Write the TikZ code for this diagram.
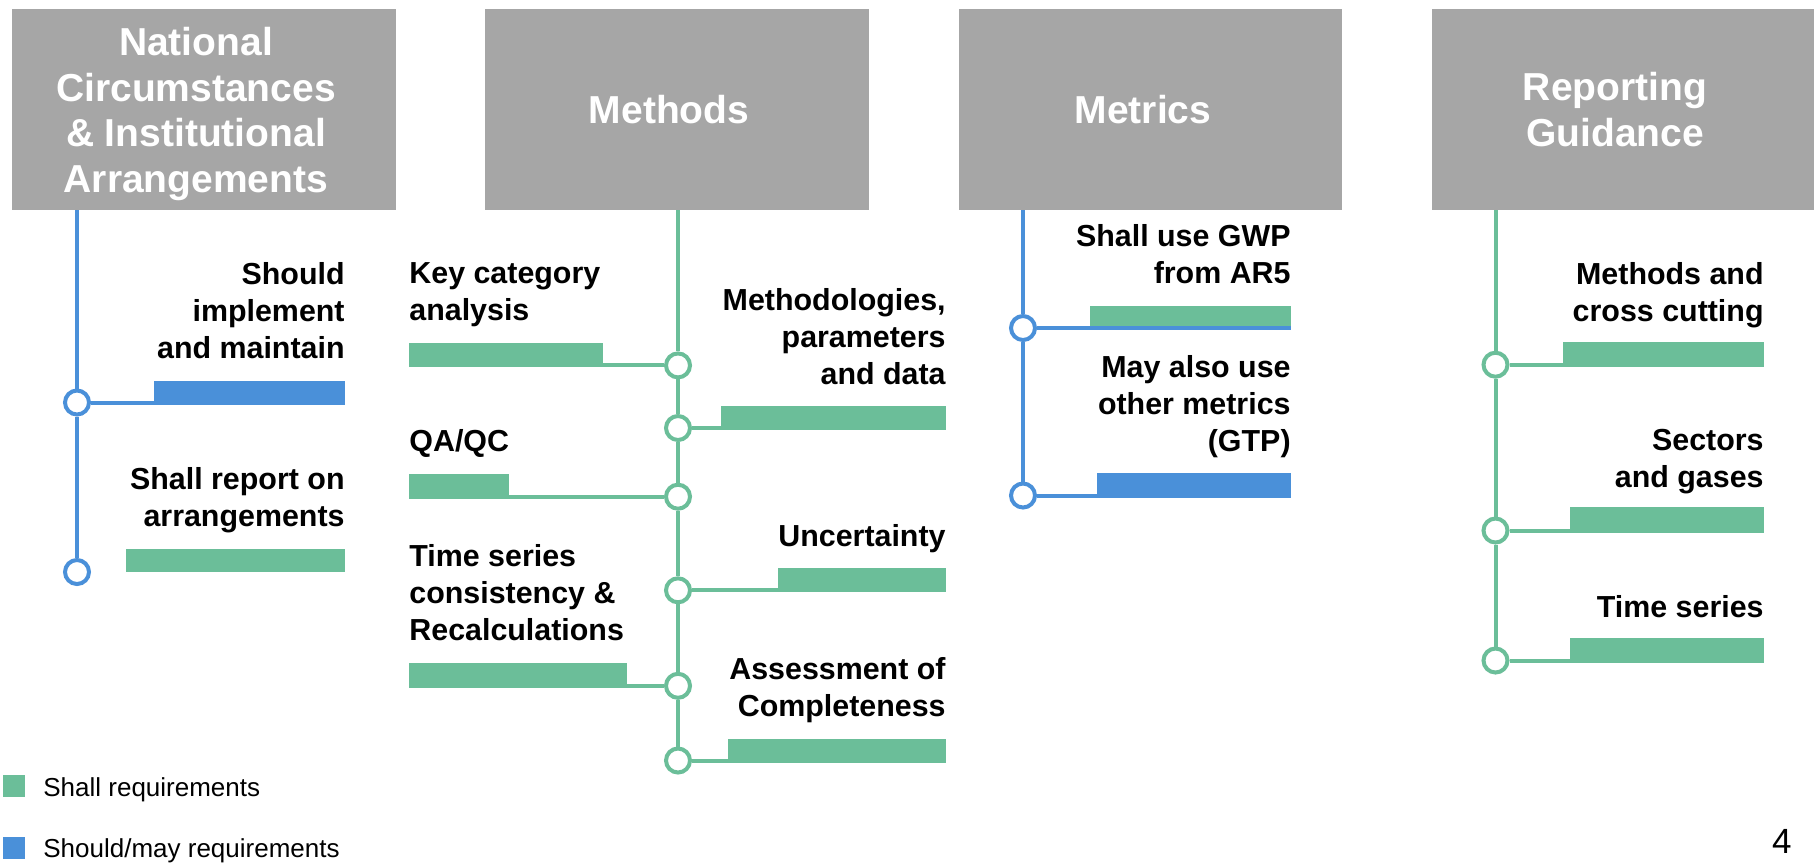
\documentclass[tikz,border=0pt]{standalone}
\usepackage{fontspec}
\setmainfont{Liberation Sans}
\usetikzlibrary{fit}
\definecolor{gbar}{RGB}{107,190,153}
\definecolor{bbar}{RGB}{74,144,217}
\definecolor{hgray}{RGB}{166,166,166}
\begin{document}
\begin{tikzpicture}[x=0.5pt,y=-0.5pt,
  hdr/.style={fill=hgray, inner sep=0pt, outer sep=0pt},
  htext/.style={text=white, font=\bfseries\fontsize{19.5}{22.75}\selectfont, align=center, inner sep=0pt, anchor=base},
  lbl/.style={font=\bfseries\fontsize{15.2}{18.5}\selectfont, inner sep=0pt},
  lblr/.style={lbl, align=right, anchor=base east},
  lbll/.style={lbl, align=left, anchor=base west},
  gbarn/.style={fill=gbar, inner sep=0pt, outer sep=0pt},
  bbarn/.style={fill=bbar, inner sep=0pt, outer sep=0pt},
  gcirc/.style={circle, draw=gbar, fill=white, line width=2pt, minimum size=12pt, inner sep=0pt},
  bcirc/.style={circle, draw=bbar, fill=white, line width=2pt, minimum size=12pt, inner sep=0pt},
  gline/.style={draw=gbar, line width=2pt},
  bline/.style={draw=bbar, line width=2pt},
  legtext/.style={font=\fontsize{13}{15}\selectfont, inner sep=0pt, anchor=base west},
]
\fill[white] (0,0) rectangle (1814,864);
\useasboundingbox (0,0) rectangle (1814,864);

% ---------- headers ----------
\node[hdr, fit={(12,9) (396,210)}] (h1) {};
\node[hdr, fit={(485,9) (869,210)}] (h2) {};
\node[hdr, fit={(959,9) (1342,210)}] (h3) {};
\node[hdr, fit={(1432,9) (1814,210)}] (h4) {};
\node[htext] (h1t) at (196,192) {National\\Circumstances\\\& Institutional\\Arrangements};
\node[htext] (h2t) at (669,123.5) {Methods};
\node[htext] (h3t) at (1143,123.5) {Metrics};
\node[htext] (h4t) at (1615,146.25) {Reporting\\Guidance};

% ---------- column 1 ----------
\node[bcirc] (c11) at (77,402.5) {};
\node[bcirc] (c12) at (77,572) {};
\node[bbarn, fit={(154,380.5) (345,404.5)}] (b11) {};
\node[gbarn, fit={(126,549) (345,572)}] (b12) {};
\node[lblr] (l11) at (345,358.6) {Should\\implement\\and maintain};
\node[lblr] (l12) at (345,526) {Shall report on\\arrangements};
\draw[bline] (h1.south -| c11) -- (c11);
\draw[bline] (c11) -- (c12);
\draw[bline] (c11) -- (c11 -| b11.west);

% ---------- column 2 ----------
\node[gcirc] (m1) at (678,365.4) {};
\node[gcirc] (m2) at (678,428) {};
\node[gcirc] (m3) at (678,496.7) {};
\node[gcirc] (m4) at (678,590.3) {};
\node[gcirc] (m5) at (678,685.8) {};
\node[gcirc] (m6) at (678,760.5) {};
\node[gbarn, fit={(409,343) (603,367.4)}] (k1) {};
\node[gbarn, fit={(721,406) (946,430)}] (k2) {};
\node[gbarn, fit={(409,474) (509,498.7)}] (k3) {};
\node[gbarn, fit={(778,568) (946,592.3)}] (k4) {};
\node[gbarn, fit={(409,663) (627,687.8)}] (k5) {};
\node[gbarn, fit={(728,739) (946,762.5)}] (k6) {};
\node[lbll] (l21) at (409,320) {Key category\\analysis};
\node[lblr] (l22) at (946,384) {Methodologies,\\parameters\\and data};
\node[lbll] (l23) at (409,451.6) {QA/QC};
\node[lbll] (l24) at (409,640) {Time series\\consistency \&\\Recalculations};
\node[lblr] (l25) at (946,546) {Uncertainty};
\node[lblr] (l26) at (946,716) {Assessment of\\Completeness};
\draw[gline] (h2.south -| m1) -- (m1);
\draw[gline] (m1) -- (m2);
\draw[gline] (m2) -- (m3);
\draw[gline] (m3) -- (m4);
\draw[gline] (m4) -- (m5);
\draw[gline] (m5) -- (m6);
\draw[gline] (m1) -- (m1 -| k1.east);
\draw[gline] (m2) -- (m2 -| k2.west);
\draw[gline] (m3) -- (m3 -| k3.east);
\draw[gline] (m4) -- (m4 -| k4.west);
\draw[gline] (m5) -- (m5 -| k5.east);
\draw[gline] (m6) -- (m6 -| k6.west);

% ---------- column 3 ----------
\node[bcirc] (t1) at (1023,328) {};
\node[bcirc] (t2) at (1023,495.5) {};
\node[gbarn, fit={(1090,306) (1291,326)}] (g1) {};
\node[bbarn, fit={(1097,472.5) (1291,497.5)}] (g2) {};
\node[lblr] (l31) at (1291,283) {Shall use GWP\\from AR5};
\node[lblr] (l32) at (1291,451) {May also use\\other metrics\\(GTP)};
\draw[bline] (h3.south -| t1) -- (t1);
\draw[bline] (t1) -- (t2);
\draw[bline] (t1) -- (t1 -| g1.east);
\draw[bline] (t2) -- (t2 -| g2.west);

% ---------- column 4 ----------
\node[gcirc] (r1) at (1495.5,364.7) {};
\node[gcirc] (r2) at (1495.5,530.5) {};
\node[gcirc] (r3) at (1495.5,660.5) {};
\node[gbarn, fit={(1563,342) (1764,366.7)}] (s1) {};
\node[gbarn, fit={(1570,507) (1764,532.5)}] (s2) {};
\node[gbarn, fit={(1570,637.7) (1764,662.5)}] (s3) {};
\node[lblr] (l41) at (1764,321) {Methods and\\cross cutting};
\node[lblr] (l42) at (1764,487.5) {Sectors\\and gases};
\node[lblr] (l43) at (1764,617) {Time series};
\draw[gline] (h4.south -| r1) -- (r1);
\draw[gline] (r1) -- (r2);
\draw[gline] (r2) -- (r3);
\draw[gline] (r1) -- (r1 -| s1.west);
\draw[gline] (r2) -- (r2 -| s2.west);
\draw[gline] (r3) -- (r3 -| s3.west);

% ---------- legend ----------
\node[gbarn, fit={(3,775) (25,797)}] (lg1) {};
\node[bbarn, fit={(3,837) (25,859)}] (lg2) {};
\node[legtext] (lt1) at (43,796) {Shall requirements};
\node[legtext] (lt2) at (43,857) {Should/may requirements};
\node[font=\fontsize{17.5}{20}\selectfont, inner sep=0pt, anchor=base east] (pg) at (1792,853) {4};
\end{tikzpicture}
\end{document}
